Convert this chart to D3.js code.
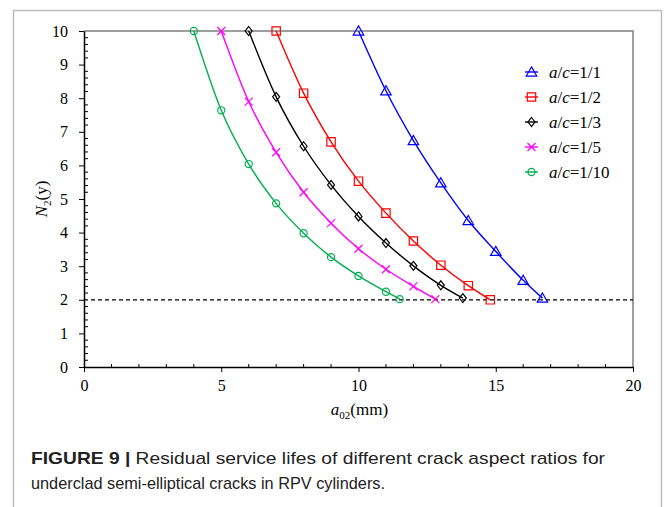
<!DOCTYPE html>
<html>
<head>
<meta charset="utf-8">
<script src="https://cdn.jsdelivr.net/npm/d3@7"></script>
<style>
  body { margin: 0; background: #fff; }
  svg { display: block; }
</style>
</head>
<body>
<div id="chart"></div>
<script>
// values
const seriesNames = ["1/1", "1/2", "1/3", "1/5", "1/10"];
const xA11 = [10, 11, 12, 13, 14, 15, 16, 16.7];
const yA11 = [10, 8.22, 6.74, 5.48, 4.36, 3.44, 2.58, 2.05];
const xA12 = [7, 8, 9, 10, 11, 12, 13, 14, 14.8];
const yA12 = [10, 8.15, 6.7, 5.53, 4.58, 3.75, 3.03, 2.42, 2.0];
const xA13 = [6, 7, 8, 9, 10, 11, 12, 13, 13.8];
const yA13 = [10, 8.04, 6.57, 5.42, 4.48, 3.69, 3.01, 2.43, 2.05];
const xA15 = [5, 6, 7, 8, 9, 10, 11, 12, 12.8];
const yA15 = [10, 7.9, 6.39, 5.2, 4.28, 3.52, 2.91, 2.4, 2.02];
const xA110 = [4, 5, 6, 7, 8, 9, 10, 11, 11.5];
const yA110 = [10, 7.64, 6.04, 4.87, 3.98, 3.27, 2.71, 2.24, 2.02];
const xTicks = [0, 5, 10, 15, 20];
const yTicks = [0, 1, 2, 3, 4, 5, 6, 7, 8, 9, 10];
const limitLife = 2;

const colors = ["#0000ff", "#ff0000", "#000000", "#ff00ff", "#00b050"];
const symbols = ["triangle", "square", "diamond", "cross", "circle"];

const series = [
  { x: xA11, y: yA11 },
  { x: xA12, y: yA12 },
  { x: xA13, y: yA13 },
  { x: xA15, y: yA15 },
  { x: xA110, y: yA110 },
].map((s, i) => ({
  name: seriesNames[i],
  color: colors[i],
  symbol: symbols[i],
  points: s.x.map((v, j) => ({ x: v, y: s.y[j] })),
}));

const W = 665, H = 507;
const margin = { top: 31, left: 84, right: 32, bottom: 140 };
const width = W - margin.left - margin.right;
const height = H - margin.top - margin.bottom;

const svg = d3.select("#chart").append("svg")
  .attr("width", W)
  .attr("height", H);

// outer figure border (left, top, right)
svg.append("path")
  .attr("d", `M13.5,${H}V10.5H661.5V${H}`)
  .attr("fill", "none")
  .attr("stroke", "#bdbdbd")
  .attr("stroke-width", 1.5);

const g = svg.append("g")
  .attr("transform", `translate(${margin.left}, ${margin.top})`);

const x = d3.scaleLinear().domain([0, 20]).range([0, width]);
const y = d3.scaleLinear().domain([0, 10]).range([height, 0]);

// top / right frame
g.append("path")
  .attr("d", `M0,0H${width}V${height}`)
  .attr("fill", "none")
  .attr("stroke", "#7f7f7f")
  .attr("stroke-width", 1.5);

const serif = "'Liberation Serif', 'Times New Roman', serif";

// minor ticks
const xMinor = d3.range(0, 21, 1).filter((d) => d % 5 !== 0);
g.append("g").selectAll("line").data(xMinor).join("line")
  .attr("x1", (d) => x(d)).attr("x2", (d) => x(d))
  .attr("y1", height).attr("y2", height - 3)
  .attr("stroke", "#000").attr("stroke-width", 1);

const yMinor = d3.range(0, 50).map((d) => d / 5).filter((d) => d % 1 !== 0);
g.append("g").selectAll("line").data(yMinor).join("line")
  .attr("x1", 0).attr("x2", 4)
  .attr("y1", (d) => y(d)).attr("y2", (d) => y(d))
  .attr("stroke", "#000").attr("stroke-width", 1);

// axes
const xAxis = g.append("g")
  .attr("transform", `translate(0, ${height})`)
  .call(d3.axisBottom(x).tickValues(xTicks).tickSize(5).tickSizeOuter(0).tickPadding(8));
const yAxis = g.append("g")
  .call(d3.axisLeft(y).tickValues(yTicks).tickSize(5).tickSizeOuter(0).tickPadding(11));

[xAxis, yAxis].forEach((a) => {
  a.attr("font-family", serif).attr("font-size", 16);
  a.select(".domain").attr("stroke", "#000").attr("stroke-width", 1.5);
  a.selectAll(".tick line").attr("stroke", "#000").attr("stroke-width", 1);
  a.selectAll("text")
    .style("font-family", serif)
    .style("font-size", "16px")
    .attr("fill", "#000");
});

// 2-year limit line
g.append("line")
  .attr("x1", 0).attr("x2", width)
  .attr("y1", y(limitLife)).attr("y2", y(limitLife))
  .attr("stroke", "#000")
  .attr("stroke-width", 1.3)
  .attr("stroke-dasharray", "4,3");

// curves
const line = d3.line()
  .x((d) => x(d.x))
  .y((d) => y(d.y))
  .curve(d3.curveMonotoneX);

const symbolPath = (type) => {
  if (type === "triangle") return d3.symbol(d3.symbolTriangle, 48)();
  if (type === "square") return d3.symbol(d3.symbolSquare, 70)();
  if (type === "diamond") return "M0,-4.5L3.5,0L0,4.5L-3.5,0Z";
  if (type === "cross") return "M-4,-4L4,4M-4,4L4,-4";
  return d3.symbol(d3.symbolCircle, 40)();
};

series.forEach((s) => {
  g.append("path")
    .datum(s.points)
    .attr("d", line)
    .attr("fill", "none")
    .attr("stroke", s.color)
    .attr("stroke-width", 1.4);

  g.append("g").selectAll("path").data(s.points).join("path")
    .attr("transform", (d) => `translate(${x(d.x)}, ${y(d.y) + (s.symbol === "triangle" ? 1 : 0)})`)
    .attr("d", symbolPath(s.symbol))
    .attr("fill", "none")
    .attr("stroke", s.color)
    .attr("stroke-width", 1.2);
});

// legend
const legend = g.append("g").attr("transform", `translate(441, 41)`);
series.forEach((s, i) => {
  const row = legend.append("g").attr("transform", `translate(0, ${i * 25})`);
  row.append("line")
    .attr("x1", 0).attr("x2", 13)
    .attr("stroke", s.color).attr("stroke-width", 1.4);
  row.append("path")
    .attr("transform", `translate(6.5, ${s.symbol === "triangle" ? 1 : 0})`)
    .attr("d", symbolPath(s.symbol))
    .attr("fill", "none")
    .attr("stroke", s.color)
    .attr("stroke-width", 1.2);
  const t = row.append("text")
    .attr("x", 24).attr("y", 6)
    .style("font-family", serif)
    .style("font-size", "17px")
    .attr("fill", "#000");
  t.append("tspan").attr("font-style", "italic").text("a");
  t.append("tspan").text("/");
  t.append("tspan").attr("font-style", "italic").text("c");
  t.append("tspan").text("=" + s.name);
});

// axis titles
const xt = g.append("text")
  .attr("x", width / 2 + 1)
  .attr("y", height + 48)
  .attr("text-anchor", "middle")
  .style("font-family", serif)
  .style("font-size", "17px")
  .attr("fill", "#000");
xt.append("tspan").attr("font-style", "italic").text("a");
xt.append("tspan").style("font-size", "11px").attr("dy", 4).text("02");
xt.append("tspan").attr("dy", -4).text("(mm)");

const yt = g.append("text")
  .attr("transform", `translate(-37, ${height / 2}) rotate(-90)`)
  .attr("text-anchor", "middle")
  .style("font-family", serif)
  .style("font-size", "17px")
  .attr("fill", "#000");
yt.append("tspan").attr("font-style", "italic").text("N");
yt.append("tspan").style("font-size", "11px").attr("dy", 4).text("2");
yt.append("tspan").attr("dy", -4).text("(y)");

// caption
const sans = "'Liberation Sans', Arial, sans-serif";
const cap1 = svg.append("text")
  .attr("x", 31).attr("y", 464)
  .style("font-family", sans)
  .style("font-size", "17px")
  .attr("fill", "#222")
  .attr("textLength", 574)
  .attr("lengthAdjust", "spacingAndGlyphs");
cap1.append("tspan").attr("font-weight", "bold").text("FIGURE 9 | ");
cap1.append("tspan").text("Residual service lifes of different crack aspect ratios for");

svg.append("text")
  .attr("x", 31).attr("y", 489)
  .style("font-family", sans)
  .style("font-size", "17px")
  .attr("fill", "#222")
  .attr("textLength", 354)
  .attr("lengthAdjust", "spacingAndGlyphs")
  .text("underclad semi-elliptical cracks in RPV cylinders.");
</script>
</body>
</html>
